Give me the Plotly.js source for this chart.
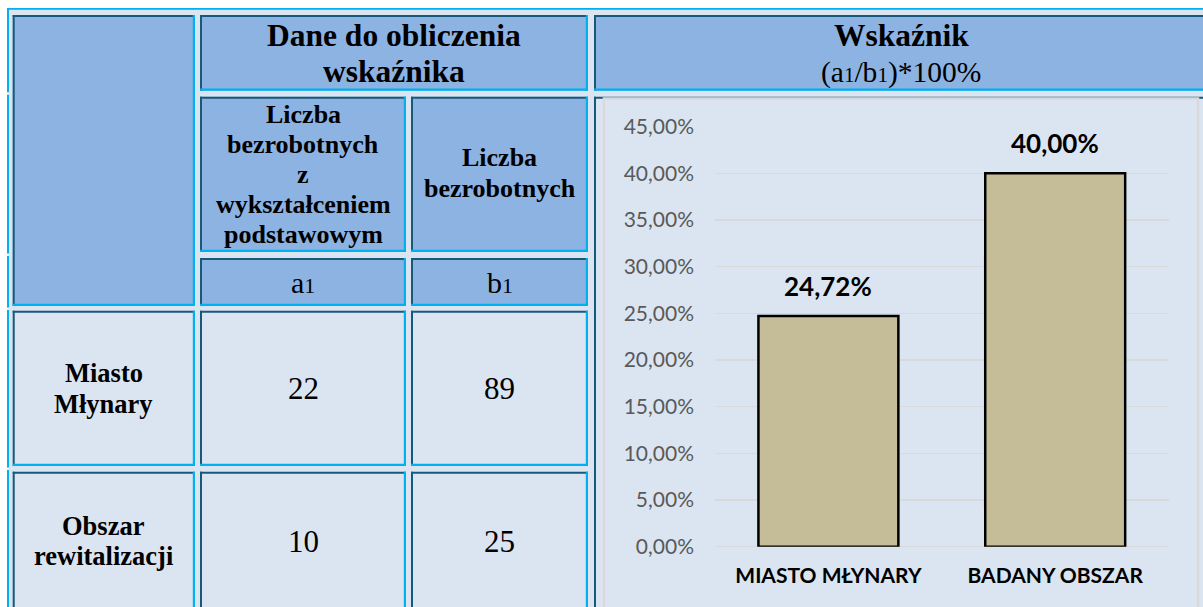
<!DOCTYPE html>
<html>
<head>
<meta charset="utf-8">
<script src="https://cdn.plot.ly/plotly-3.0.1.min.js"></script>
<style>html,body{margin:0;padding:0;background:#fff;}#chart{width:1203px;height:607px;}</style>
</head>
<body>
<div id="chart"></div>
<script>
// ---- data ----
const rowLabels = [['Miasto', 'Młynary'], ['Obszar', 'rewitalizacji']];
const countA = [22, 10];          // a1: liczba bezrobotnych z wykształceniem podstawowym
const countB = [89, 25];          // b1: liczba bezrobotnych
const categories = ['MIASTO MŁYNARY', 'BADANY OBSZAR'];
const ratio = [0.2472, 0.40];     // wskaźnik (a1/b1)
const headData = ['Dane do obliczenia', 'wskaźnika'];
const SUB1 = '<span style="font-size:22px">1</span>';
const SUB1s = '<span style="font-size:21px">1</span>';
const headIndex = ['Wskaźnik', '(a' + SUB1s + '/b' + SUB1s + ')*100%'];
const headColA = ['Liczba', 'bezrobotnych', 'z', 'wykształceniem', 'podstawowym'];
const headColB = ['Liczba', 'bezrobotnych'];
const symA = 'a' + SUB1;
const symB = 'b' + SUB1;

// ---- layout helpers ----
const W = 1203, H = 607;
const px = x => x / W;
const py = y => 1 - y / H;
const DARK = '#17597a', CYAN = '#00b0f0', HEAD = '#8db3e2', LIGHT = '#dbe5f1';
const SERIF = 'Liberation Serif, Times New Roman, serif';
const SANS = 'Lato, Open Sans, sans-serif';

const shapes = [];
const annotations = [];

function rect(x0, y0, x1, y1, fill) {
  shapes.push({type: 'rect', xref: 'paper', yref: 'paper', layer: 'below',
    x0: px(x0), x1: px(x1), y0: py(y1), y1: py(y0),
    fillcolor: fill, line: {width: 0}});
}
function cell(x0, y0, x1, y1, fill) {
  rect(x0, y0, x1, y1, fill);
  rect(x0, y0, x1, y0 + 2, DARK);
  rect(x0, y0, x0 + 2, y1, DARK);
  rect(x0, y1 - 2.2, x1, y1, CYAN);
  rect(x1 - 2.2, y0, x1, y1, CYAN);
}
function txt(text, cx, baseline, size, bold, family, k) {
  const kk = (k === undefined) ? 0.3375 : k;
  annotations.push({xref: 'paper', yref: 'paper', x: px(cx), y: py(baseline - kk * size),
    xanchor: 'center', yanchor: 'middle', showarrow: false, text: text,
    font: {family: family || SERIF, size: size, color: '#000', weight: bold ? 'bold' : 'normal'}});
}

// background of table
rect(7, 8, W + 5, H + 5, LIGHT);
rect(7, 8, W + 5, 9.8, CYAN);
rect(7, 8, 9, H + 5, CYAN);
[[90.7, 96.7], [252, 258], [306, 310.7], [466, 471.7]].forEach(g => rect(6.5, g[0] + 1.5, 9.2, g[0] + 4, '#eef3f9'));

// cells
const colX = [[12.7, 195], [200, 406], [411, 588]];
cell(12.7, 15, 195, 306, HEAD);
cell(200, 15, 588, 90.7, HEAD);
cell(594, 15, W + 10, 90.7, HEAD);
cell(200, 96.7, 406, 252, HEAD);
cell(411, 96.7, 588, 252, HEAD);
cell(200, 258, 406, 306, HEAD);
cell(411, 258, 588, 306, HEAD);
cell(594, 96.7, W + 10, H + 10, LIGHT);
const rowY = [[310.7, 466], [471.7, H + 10]];
rowY.forEach(r => colX.forEach(c => cell(c[0], r[0], c[1], r[1], LIGHT)));
// chart area frame
shapes.push({type: 'rect', xref: 'paper', yref: 'paper', layer: 'below',
  x0: px(604), x1: px(1198), y0: py(H + 10), y1: py(98.6),
  fillcolor: LIGHT, line: {color: '#d9d9d9', width: 2.5}});

// header texts
const cxA = (colX[1][0] + colX[1][1]) / 2, cxB = (colX[2][0] + colX[2][1]) / 2, cxL = (colX[0][0] + colX[0][1]) / 2;
headData.forEach((t, i) => txt(t, 394, 46 + i * 36, 31.5, true));
txt(headIndex[0], 901, 46, 31.5, true);
txt(headIndex[1], 901, 82, 29.5, false);
headColA.forEach((t, i) => txt(t, cxA, 123.3 + i * 30, 26, true));
headColB.forEach((t, i) => txt(t, cxB, 166.7 + i * 30.6, 26, true));
txt(symA, cxA, 293, 30, false);
txt(symB, cxB, 293, 30, false);

// rows
const labelBase = [[381.7, 412.7], [535, 565]];
const numBase = [399, 552];
rowLabels.forEach((lines, r) => {
  lines.forEach((t, i) => txt(t, cxL, labelBase[r][i], 26.5, true));
  txt(String(countA[r]), cxA, numBase[r], 31, false);
  txt(String(countB[r]), cxB, numBase[r], 31, false);
});

// bar value labels
const fmt = v => (v * 100).toFixed(2).replace('.', ',') + '%';
categories.forEach((c, i) => {
  annotations.push({xref: 'x', yref: 'y', x: c, y: ratio[i], xanchor: 'center', yanchor: 'bottom',
    yshift: 12, showarrow: false, text: fmt(ratio[i]),
    font: {family: SANS, size: 26, color: '#000', weight: 'bold'}});
});

const trace = {
  type: 'bar', x: categories, y: ratio,
  marker: {color: '#c4bd97', line: {color: '#000', width: 2.5}},
  hoverinfo: 'skip', showlegend: false
};

const layout = {
  width: W, height: H,
  margin: {l: 0, r: 0, t: 0, b: 0, pad: 0},
  paper_bgcolor: '#ffffff', plot_bgcolor: 'rgba(0,0,0,0)',
  separators: ', ',
  showlegend: false,
  bargap: 0.383,
  xaxis: {domain: [px(715), px(1168.6)], type: 'category', showgrid: false, showline: false,
    zeroline: false, ticks: '', ticklabelstandoff: 14, fixedrange: true,
    tickfont: {family: SANS, size: 21, color: '#000', weight: 'bold'}},
  yaxis: {domain: [py(546.7), py(126.7)], range: [0, 0.45], tick0: 0, dtick: 0.05,
    tickformat: '.2%', showgrid: true, gridcolor: '#d9d9d9', gridwidth: 1.5,
    zeroline: true, zerolinecolor: '#d9d9d9', zerolinewidth: 1.5, showline: false, ticks: '',
    ticklabelstandoff: 20, fixedrange: true,
    tickfont: {family: SANS, size: 21, color: '#595959'}},
  shapes: shapes,
  annotations: annotations
};

Plotly.newPlot('chart', [trace], layout, {displayModeBar: false, staticPlot: true});
</script>
</body>
</html>
